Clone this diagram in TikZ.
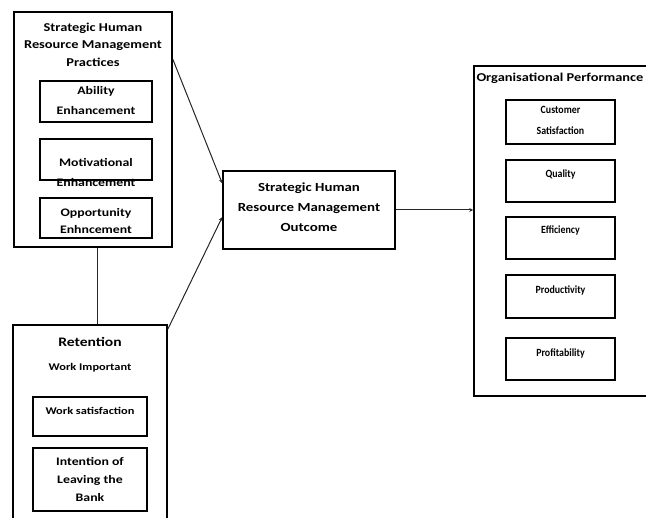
\documentclass[tikz,border=0pt]{standalone}
\usepackage{fontspec}
\setmainfont{Carlito}
\newfontfamily\wfont[FakeStretch=1.2]{Carlito}
\newfontfamily\nfont[FakeStretch=0.9]{Carlito}
\usetikzlibrary{arrows.meta,calc}
\begin{document}
\begin{tikzpicture}[x=1pt,y=-1pt,
  bigbox/.style={draw=black,line width=1.6pt,rectangle,inner sep=0pt},
  inbox/.style={draw=black,line width=1.3pt,rectangle,inner sep=0pt},
  txt/.style={align=center,inner sep=0pt},
  ttl/.style={txt,font=\wfont\bfseries\fontsize{12}{17.5}\selectfont},
  big/.style={txt,font=\wfont\bfseries\fontsize{11.5}{20}\selectfont},
  mid/.style={txt,font=\wfont\bfseries\fontsize{10.3}{18}\selectfont},
  small/.style={txt,font=\nfont\bfseries\fontsize{11}{21}\selectfont},
  conn/.style={line width=1pt,draw=black!85},
  arr/.style={conn,-{Stealth[length=4pt,width=4pt]}}]
\useasboundingbox (0,0) rectangle (646,518);
% Practices
\node[bigbox,minimum width=158,minimum height=235] (prac) at (93,129.5) {};
\node[ttl] (pract) at (93,44.5) {Strategic Human\\Resource Management\\Practices};
\node[inbox,minimum width=112,minimum height=41] (abil) at (96,101.5) {};
\node[big] (abilt) at (96,101) {Ability\\Enhancement};
\node[inbox,minimum width=112,minimum height=41] (motiv) at (96,159.5) {};
\node[big] (motivt) at (96,172.5) {Motivational\\Enhancement};
\node[inbox,minimum width=112,minimum height=40] (opp) at (96,218) {};
\node[big,font=\wfont\bfseries\fontsize{11.5}{17.5}\selectfont] (oppt) at (96,221) {Opportunity\\Enhncement};
% Retention
\node[bigbox,minimum width=154,minimum height=197] (ret) at (90,423.5) {};
\node[txt,font=\wfont\bfseries\fontsize{13}{16}\selectfont] (rett) at (90,342) {Retention};
\node[mid] (wimp) at (90,368) {Work Important};
\node[inbox,minimum width=114,minimum height=39] (ws) at (90,416.5) {};
\node[mid] (wst) at (90,411) {Work satisfaction};
\node[inbox,minimum width=114,minimum height=63] (int) at (90,479.5) {};
\node[txt,font=\wfont\bfseries\fontsize{11.5}{18}\selectfont] (intt) at (90,480) {Intention of\\Leaving the\\Bank};
% Outcome
\node[bigbox,minimum width=172,minimum height=78] (out) at (309,210) {};
\node[ttl,font=\wfont\bfseries\fontsize{12.4}{20}\selectfont] (outt) at (309,207) {Strategic Human\\Resource Management\\Outcome};
% Org performance
\node[bigbox,minimum width=176,minimum height=330] (org) at (562,231) {};
\node[ttl,font=\wfont\bfseries\fontsize{12}{16}\selectfont] (orgt) at (560,78) {Organisational Performance};
\node[inbox,minimum width=109,minimum height=44] (cs) at (560.5,122) {};
\node[small] (cst) at (560.5,120) {Customer\\Satisfaction};
\node[inbox,minimum width=109,minimum height=42] (qual) at (560.5,181) {};
\node[small] (qualt) at (560.5,175) {Quality};
\node[inbox,minimum width=109,minimum height=42] (eff) at (560.5,238) {};
\node[small] (efft) at (560.5,231) {Efficiency};
\node[inbox,minimum width=109,minimum height=43] (prod) at (560.5,296.5) {};
\node[small] (prodt) at (560.5,290) {Productivity};
\node[inbox,minimum width=109,minimum height=42] (prof) at (560.5,359) {};
\node[small] (proft) at (560.5,353) {Profitability};
% connectors
\draw[arr] ([yshift=-48pt]prac.north east) -- ([yshift=-13pt]out.north west);
\draw[arr] ([yshift=-5pt]ret.north east) -- ([yshift=-47pt]out.north west);
\draw[arr] (out.east) -- (org.west |- out.east);
\draw[conn] ([xshift=4pt]prac.south) -- ([xshift=4pt]prac.south |- ret.north);
\end{tikzpicture}
\end{document}
